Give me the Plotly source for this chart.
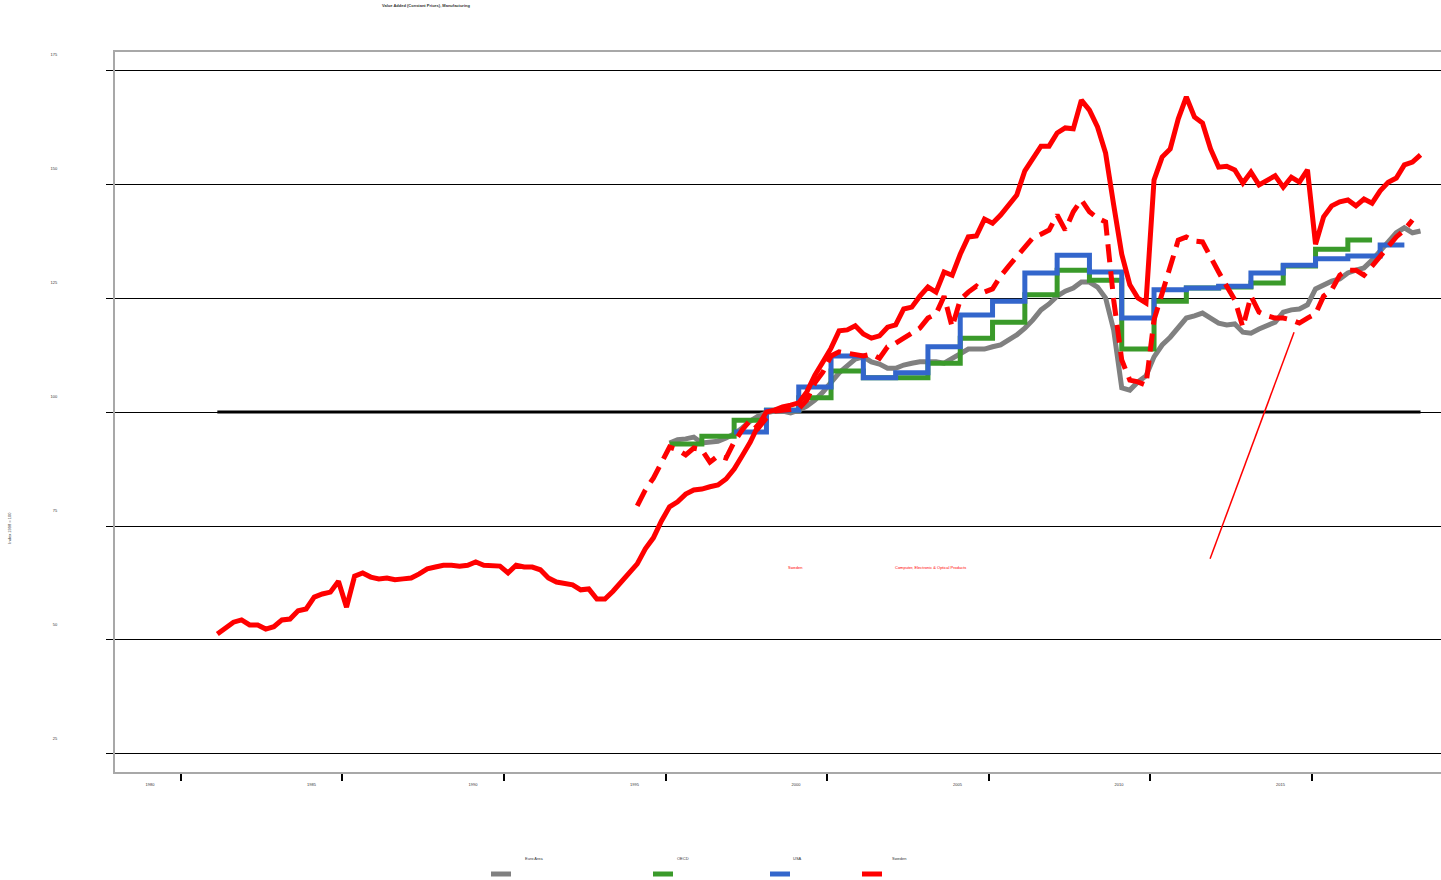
import plotly.graph_objects as go

# ---------------- data ----------------
title_text = "Value Added (Constant Prices), Manufacturing"
y_title = "Index 1998 = 100"
legend_names = ["Euro Area", "OECD", "USA", "Sweden"]
legend_colors = ["#808080", "#3A9A2A", "#3366CC", "#FF0000"]

x_ticks = [1980, 1985, 1990, 1995, 2000, 2005, 2010, 2015]
y_ticks = [25, 50, 75, 100, 125, 150, 175]

# quarterly series, first quarter 1981 Q1 (plotted at quarter midpoints)
q_start = 1981.125

sweden_total = [
    51.3, 52.6, 53.9, 54.4, 53.3, 53.3, 52.4, 52.9, 54.4, 54.6,
    56.4, 56.8, 59.4, 60.1, 60.5, 62.9, 57.2, 64.0, 64.7, 63.8,
    63.4, 63.6, 63.2, 63.4, 63.6, 64.5, 65.6, 66.0, 66.4, 66.4,
    66.2, 66.4, 67.1, 66.4, 66.2, 66.2, 64.7, 66.4, 66.0, 66.0,
    65.4, 63.6, 62.7, 62.5, 62.1, 61.0, 61.2, 59.0, 59.0, 60.7,
    62.7, 64.3, 66.7, 70.0, 72.4, 76.1, 79.2, 80.3, 82.0, 82.9,
    83.1, 83.6, 84.0, 85.3, 87.5, 90.4, 93.4, 97.1, 100.0, 100.4,
    101.1, 101.5, 102.0, 104.4, 108.1, 111.0, 114.0, 117.8, 118.0, 118.9,
    117.1, 116.2, 116.7, 118.6, 119.1, 122.6, 123.0, 125.4, 127.4, 126.3,
    130.7, 130.0, 134.6, 138.4, 138.6, 142.3, 141.4, 143.2, 145.6, 147.6,
    152.9, 155.5, 158.3, 158.3, 161.2, 162.3, 162.1, 168.4, 166.2, 162.5,
    156.8, 145.4, 134.6, 127.9, 125.0, 123.9, 150.9, 155.9, 157.7, 164.3,
    169.1, 164.7, 163.4, 157.7, 153.7, 153.9, 153.1, 150.2, 152.6, 149.8,
    150.9, 151.8, 149.3, 151.5, 150.4, 153.1, 136.8, 142.8, 145.2, 146.1,
    146.5, 145.2, 146.7, 145.8, 148.5, 150.4, 151.3, 154.2, 154.8, 156.4,
]

# Sweden sub-industry (dashed), starts at quarter index 52 (1994 Q1)
sweden_sub_offset = 52
sweden_sub = [
    79.4, 82.9, 85.5, 89.0, 92.3, 91.7, 90.6, 92.1, 91.7, 89.0,
    90.4, 89.9, 93.4, 96.1, 98.2, 96.5, 98.7, 100.2, 100.4, 100.4,
    100.7, 102.6, 106.4, 108.8, 112.3, 113.2, 112.9, 112.5, 112.3, 112.7,
    111.8, 114.3, 115.1, 116.2, 117.3, 118.4, 120.6, 121.5, 125.4, 118.6,
    124.6, 126.3, 127.6, 126.3, 127.0, 129.8, 132.0, 134.2, 136.0, 138.2,
    139.0, 139.9, 143.2, 139.9, 143.9, 146.5, 143.9, 142.5, 141.7, 124.6,
    111.4, 107.0, 106.6, 105.9, 120.2, 126.1, 131.6, 137.7, 138.4, 137.5,
    137.3, 133.8, 130.7, 127.6, 124.6, 118.6, 125.4, 121.9, 121.1, 120.6,
    120.6, 120.2, 119.5, 120.6, 121.5, 125.4, 126.8, 130.0, 131.1, 131.1,
    130.0, 132.0, 134.2, 136.4, 138.4, 139.9, 142.1,
]

# Euro area, starts at quarter index 56 (1995 Q1)
euro_offset = 56
euro_area = [
    93.2, 93.9, 94.1, 94.5, 93.2, 93.4, 93.6, 94.3, 95.2, 96.5,
    98.0, 99.1, 99.8, 100.2, 100.2, 99.8, 100.4, 101.3, 102.6, 104.4,
    106.6, 108.6, 110.1, 111.6, 112.1, 111.0, 110.5, 109.6, 109.6, 110.3,
    110.7, 111.0, 111.0, 111.0, 110.7, 111.8, 112.7, 113.8, 113.8, 113.8,
    114.3, 114.7, 115.8, 116.9, 118.4, 120.2, 122.4, 123.7, 125.4, 126.5,
    127.2, 128.5, 128.5, 127.4, 125.0, 118.0, 105.3, 104.8, 106.6, 107.9,
    112.1, 114.7, 116.4, 118.4, 120.6, 121.1, 121.7, 120.6, 119.5, 119.1,
    119.3, 117.5, 117.3, 118.2, 118.9, 119.7, 121.9, 122.4, 122.6, 123.5,
    127.0, 127.9, 128.7, 129.2, 130.5, 131.1, 131.6, 133.3, 135.5, 137.3,
    139.3, 140.4, 139.3, 139.7,
]

# annual series (step lines)
oecd_first_year = 1995
oecd = [93.0, 94.7, 98.2, 100.4, 103.1, 109.0, 107.5, 107.5, 110.7, 116.2, 119.7,
        125.7, 131.1, 128.9, 113.8, 124.3, 127.2, 127.4, 128.3, 132.0, 135.7, 137.7]
usa_first_year = 1997
usa = [95.6, 100.4, 105.5, 112.3, 107.5, 108.6, 114.3, 121.3, 124.3, 130.5, 134.4,
       130.7, 120.6, 126.8, 127.2, 127.6, 130.5, 132.2, 133.6, 134.2, 136.6]

ref_value = 100
note_sweden = "Sweden"
note_sub = "Computer, Electronic & Optical Products"
note_arrow = [(2011.86, 67.8), (2014.46, 117.5)]

# ---------------- helpers ----------------
def qx(offset, n):
    return [q_start + 0.25 * (offset + i) for i in range(n)]

def annual_steps(first_year, vals):
    xs = [first_year + 0.125 + k for k in range(len(vals))]
    xs.append(xs[-1] + 0.75)
    ys = list(vals) + [vals[-1]]
    return xs, ys

FONT = "Liberation Sans, Arial, sans-serif"

fig = go.Figure()

# reference line at 100
sw_x = qx(0, len(sweden_total))
fig.add_trace(go.Scatter(x=[sw_x[0], sw_x[-1]], y=[ref_value, ref_value], mode="lines",
                         line=dict(color="black", width=3), showlegend=False, hoverinfo="skip"))

fig.add_trace(go.Scatter(x=qx(euro_offset, len(euro_area)), y=euro_area, mode="lines",
                         line=dict(color=legend_colors[0], width=5), name="Euro Area", showlegend=False))

ox, oy = annual_steps(oecd_first_year, oecd)
fig.add_trace(go.Scatter(x=ox, y=oy, mode="lines", line=dict(color=legend_colors[1], width=5, shape="hv"),
                         name="OECD", showlegend=False))

ux, uy = annual_steps(usa_first_year, usa)
fig.add_trace(go.Scatter(x=ux, y=uy, mode="lines", line=dict(color=legend_colors[2], width=5, shape="hv"),
                         name="USA", showlegend=False))

fig.add_trace(go.Scatter(x=sw_x, y=sweden_total, mode="lines",
                         line=dict(color=legend_colors[3], width=5), name="Sweden", showlegend=False))

fig.add_trace(go.Scatter(x=qx(sweden_sub_offset, len(sweden_sub)), y=sweden_sub, mode="lines",
                         line=dict(color=legend_colors[3], width=5, dash="18px,9px"),
                         name=note_sub, showlegend=False))

# annotation line
fig.add_shape(type="line", xref="x", yref="y",
              x0=note_arrow[0][0], y0=note_arrow[0][1], x1=note_arrow[1][0], y1=note_arrow[1][1],
              line=dict(color="#FF0000", width=1.5))

fig.add_annotation(x=1999.0, y=65.8, xref="x", yref="y", text=note_sweden, showarrow=False,
                   font=dict(family=FONT, size=4, color="#FF0000"))
fig.add_annotation(x=2003.2, y=65.8, xref="x", yref="y", text=note_sub, showarrow=False,
                   font=dict(family=FONT, size=4, color="#FF0000"))

# y axis title
fig.add_annotation(x=-0.0830, y=0.34, xref="paper", yref="paper", text=y_title, textangle=-90,
                   showarrow=False, font=dict(family=FONT, size=4, color="#333333"))

# legend (labels above swatches)
PW, PH, ML, MB = 1326.0, 720.0, 115.0, 772.0
leg_text_x = [523, 683, 798, 899]
leg_sw_x = [(491, 511), (653, 673), (770, 790), (862, 882)]
for name, col, tx, (s0, s1) in zip(legend_names, legend_colors, leg_text_x, leg_sw_x):
    fig.add_annotation(x=(tx - ML) / PW, y=(MB - 863) / PH, xref="paper", yref="paper", text=name,
                       showarrow=False, font=dict(family=FONT, size=4, color="#333333"))
    fig.add_shape(type="line", xref="paper", yref="paper",
                  x0=(s0 - ML) / PW, x1=(s1 - ML) / PW, y0=(MB - 874) / PH, y1=(MB - 874) / PH,
                  line=dict(color=col, width=5))

fig.update_layout(
    width=1441, height=880,
    margin=dict(l=115, r=0, t=52, b=108, pad=0),
    paper_bgcolor="white", plot_bgcolor="white",
    showlegend=False,
    title=dict(text="<b>" + title_text + "</b>", x=426 / 1441, xref="container", xanchor="center",
               y=1 - 6 / 880, yref="container", yanchor="middle",
               font=dict(family=FONT, size=4, color="#333333")),
    font=dict(family=FONT, size=4, color="#333333"),
)

fig.update_xaxes(range=[1977.957, 2019.009], tickvals=x_ticks, ticktext=[str(v) for v in x_ticks],
                 showgrid=False, zeroline=False, showline=True, mirror=True,
                 linecolor="#A8A8A8", linewidth=2, ticks="outside", ticklen=7, tickwidth=1.5,
                 tickcolor="black", ticklabelshift=-31, tickfont=dict(size=4, family=FONT))

fig.update_yaxes(range=[21.05, 178.95], tickvals=y_ticks, ticktext=[str(v) for v in y_ticks],
                 showgrid=True, gridcolor="black", gridwidth=1, zeroline=False,
                 showline=True, linecolor="#A8A8A8", linewidth=2, mirror=False,
                 ticks="outside", ticklen=7, tickcolor="black", tickwidth=1,
                 ticklabelshift=-15, ticklabelstandoff=48, tickfont=dict(size=4, family=FONT))

fig.write_html("out.html", config={"displayModeBar": False},
               post_script="document.body.style.margin='0';document.body.style.overflow='hidden';")
